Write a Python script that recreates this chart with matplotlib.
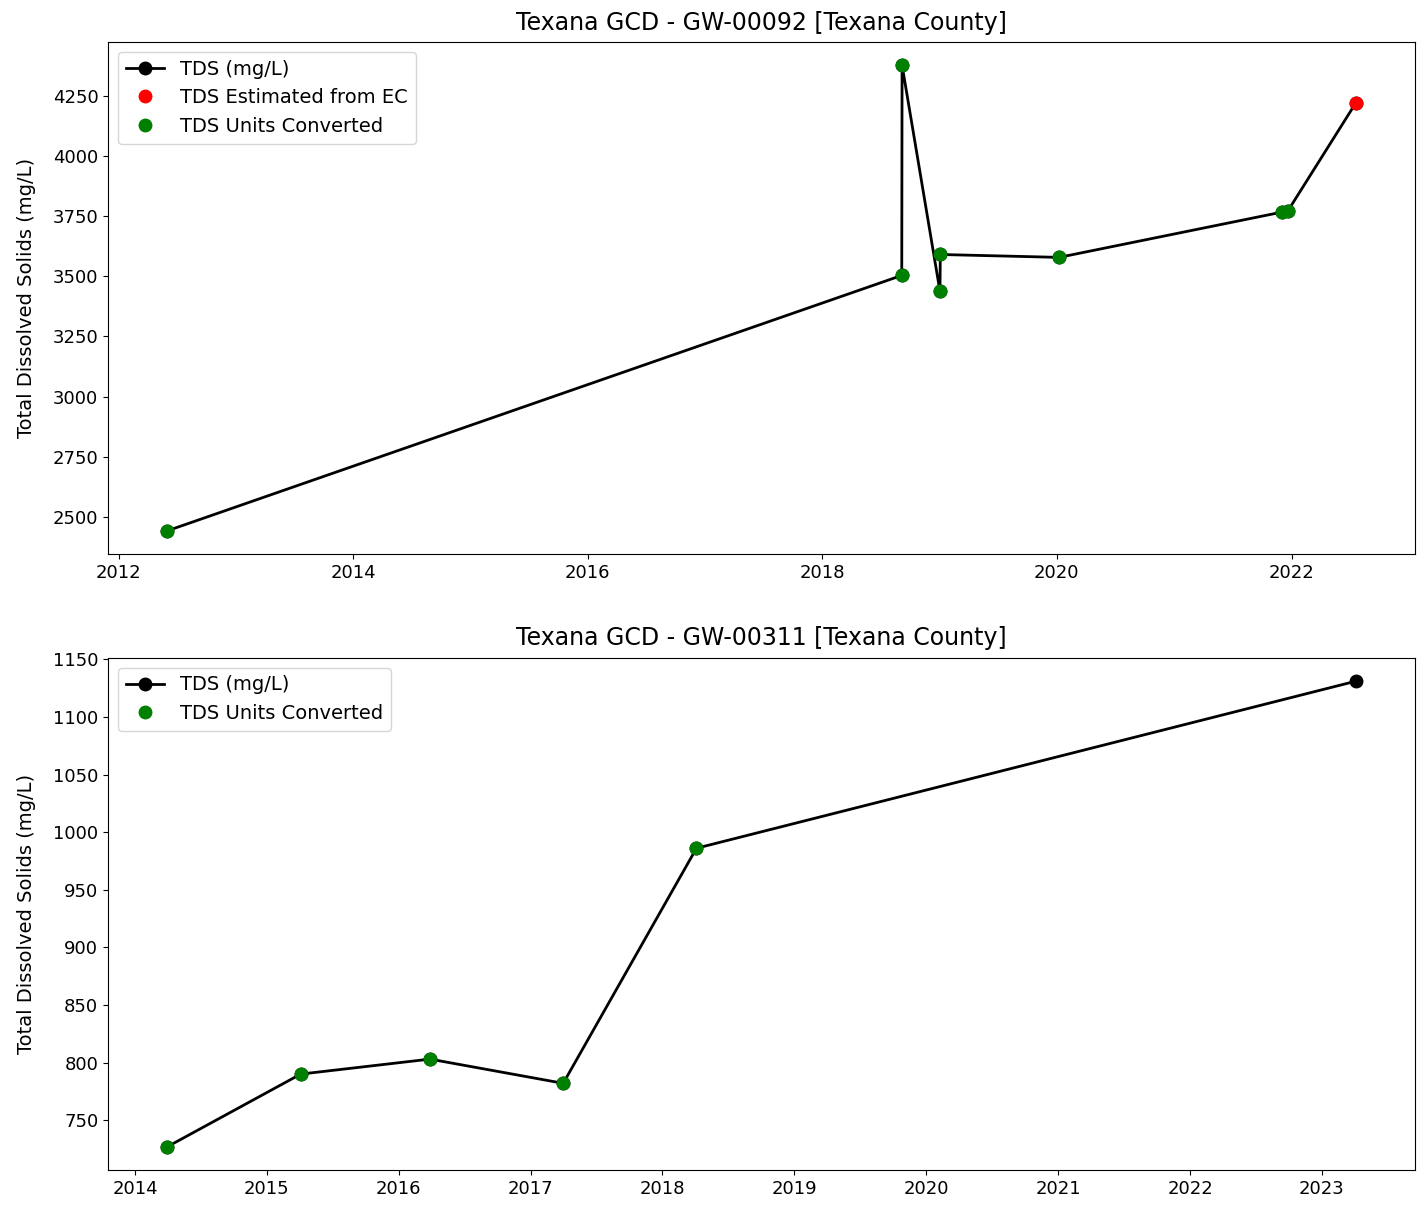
import pandas as pd
import matplotlib
matplotlib.use("Agg")
import matplotlib.pyplot as plt

# GW-00092 samples
dates_92 = pd.to_datetime(["2012-06-01", "2018-09-05", "2018-09-06", "2019-01-02",
                           "2019-01-03", "2020-01-08", "2021-12-01", "2021-12-20",
                           "2022-07-20"])
tds_92 = [2442, 3504, 4378, 3438, 3591, 3579, 3767, 3771, 4221]
conv_92 = [True, True, True, True, True, True, True, True, False]
est_92 = [False, False, False, False, False, False, False, False, True]

# GW-00311 samples
dates_311 = pd.to_datetime(["2014-04-01", "2015-04-05", "2016-03-28", "2017-04-01",
                            "2018-04-05", "2023-04-05"])
tds_311 = [727, 790, 803, 782, 986, 1131]
conv_311 = [True, True, True, True, True, False]
est_311 = [False] * 6

wells = [
    ("Texana GCD - GW-00092 [Texana County]", dates_92, tds_92, conv_92, est_92),
    ("Texana GCD - GW-00311 [Texana County]", dates_311, tds_311, conv_311, est_311),
]

plt.rcParams["font.size"] = 13

fig = plt.figure(figsize=(14.18, 12.07), dpi=100)
boxes = [[0.0762, 0.541, 0.9218, 0.4242], [0.0762, 0.0307, 0.9218, 0.4242]]

for box, (title, d, v, conv, est) in zip(boxes, wells):
    ax = fig.add_axes(box)
    ax.plot(d, v, color="black", marker="o", markersize=9, linewidth=2,
            label="TDS (mg/L)")
    if any(est):
        ax.plot([x for x, e in zip(d, est) if e], [y for y, e in zip(v, est) if e],
                "o", color="red", markersize=9, label="TDS Estimated from EC")
    if any(conv):
        ax.plot([x for x, c in zip(d, conv) if c], [y for y, c in zip(v, conv) if c],
                "o", color="green", markersize=9, label="TDS Units Converted")
    ax.set_title(title, fontsize=17, pad=9)
    ax.set_ylabel("Total Dissolved Solids (mg/L)", fontsize=14, labelpad=12)
    ax.legend(loc="upper left", fontsize=14)

fig.savefig("out.png", dpi=100)
